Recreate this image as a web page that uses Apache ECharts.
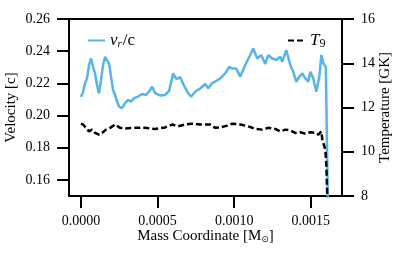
<!DOCTYPE html>
<html><head><meta charset="utf-8">
<script src="https://cdn.jsdelivr.net/npm/echarts@6/dist/echarts.min.js"></script>
<style>html,body{margin:0;padding:0;background:#fff}#c{width:399px;height:254px}</style>
</head><body><div id="c"></div>
<script>
// Velocity series (mass coordinate [Msun], v_r/c)
const velMass = [0,0.0000131,0.0000261,0.0000392,0.0000523,0.0000654,0.0000784,0.0000915,0.0001046,0.0001176,0.0001307,0.0001438,0.0001569,0.0001699,0.000183,0.0001961,0.0002092,0.0002222,0.0002353,0.0002484,0.000268,0.0002876,0.0003072,0.0003268,0.0003464,0.0003725,0.0003987,0.0004248,0.000451,0.0004641,0.0004837,0.0005163,0.000549,0.0005752,0.0006013,0.0006209,0.0006471,0.0006732,0.0006993,0.000719,0.0007451,0.0007778,0.0008105,0.0008301,0.0008562,0.0008824,0.0009085,0.0009412,0.0009673,0.0009869,0.0010131,0.0010392,0.0010719,0.0011046,0.0011242,0.0011503,0.0011765,0.0012026,0.0012222,0.0012484,0.0012745,0.0013007,0.0013137,0.0013399,0.001366,0.0013856,0.0014052,0.0014248,0.0014444,0.0014641,0.0014837,0.0014967,0.0015163,0.0015359,0.0015556,0.0015686,0.0015817,0.0015882,0.001598,0.00162];
const velValues = [0.2116,0.2147,0.22,0.2231,0.2314,0.2355,0.2303,0.2262,0.219,0.2138,0.222,0.2314,0.2365,0.2376,0.2324,0.2241,0.2159,0.2128,0.2087,0.2056,0.2046,0.2077,0.2097,0.2087,0.2108,0.2118,0.2134,0.2128,0.2159,0.2179,0.214,0.2125,0.2128,0.2153,0.2262,0.2227,0.2238,0.2184,0.214,0.2117,0.2148,0.2168,0.2196,0.2169,0.2202,0.2215,0.2231,0.2262,0.2303,0.2293,0.2293,0.2241,0.2314,0.2376,0.2417,0.2355,0.2376,0.232,0.2376,0.2355,0.2345,0.2365,0.2334,0.2407,0.2314,0.2272,0.221,0.2241,0.2262,0.2231,0.221,0.2272,0.2231,0.2148,0.2241,0.2376,0.2324,0.2334,0.2301,0.09];
// Temperature series (mass coordinate [Msun], T9 [GK])
const tempMass = [0,0.0000131,0.0000327,0.0000523,0.0000719,0.0000915,0.0001176,0.0001373,0.0001634,0.0001895,0.0002222,0.0002549,0.0002876,0.0003529,0.0004183,0.0004837,0.000549,0.0005948,0.000634,0.0006797,0.0007255,0.0007778,0.0008105,0.0008431,0.0008758,0.0009085,0.0009542,0.0009869,0.0010392,0.0010719,0.0011046,0.0011373,0.001183,0.0012222,0.001268,0.0013007,0.0013333,0.001366,0.0013987,0.0014314,0.0014641,0.0014967,0.0015294,0.001549,0.0015686,0.0015752,0.0015817,0.0015948,0.0016013,0.00162];
const tempValues = [11.27,11.23,11.08,10.92,11.0,10.85,10.77,10.85,11.0,11.08,11.23,11.08,11.05,11.08,11.08,11.03,11.1,11.23,11.15,11.23,11.27,11.23,11.23,11.23,11.08,11.1,11.18,11.27,11.23,11.18,11.12,11.03,11.0,11.08,11.03,10.92,11.0,10.97,10.85,10.88,10.82,10.88,10.85,10.77,10.92,10.55,10.4,10.09,9.41,5.0];
// Tick labels
const xTicks = [0, 0.0005, 0.001, 0.0015];
const velTicks = [0.16, 0.18, 0.20, 0.22, 0.24, 0.26];
const tempTicks = [8, 10, 12, 14, 16];

const FONT = 'Liberation Serif';
const chart = echarts.init(document.getElementById('c'), null, {renderer: 'canvas'});
const zip = (a, b) => a.map((x, i) => [x, b[i]]);
const legendBase = {itemWidth: 17, itemHeight: 12, itemGap: 8,
  itemStyle: {opacity: 0, borderWidth: 0}, selectedMode: false};
chart.setOption({
  animation: false,
  backgroundColor: '#fff',
  textStyle: {fontFamily: FONT},
  grid: {left: 69, top: 19, right: 57, bottom: 58, outerBoundsMode: 'none', containLabel: false,
         show: true, borderColor: '#000', borderWidth: 2, backgroundColor: 'transparent'},
  legend: [
    Object.assign({data: ['vel'], left: 82, top: 27,
     formatter: () => '{i|v}{s|r}{n|/c}',
     textStyle: {fontFamily: FONT, fontSize: 16, color: '#000', rich: {
       i: {fontFamily: FONT, fontSize: 17, fontStyle: 'italic', color: '#000'},
       s: {fontFamily: FONT, fontSize: 11, fontStyle: 'italic', color: '#000', padding: [7, 0, 0, 0]},
       n: {fontFamily: FONT, fontSize: 17, color: '#000', padding: [0, 0, 0, 1]}}}}, legendBase),
    Object.assign({data: ['temp'], left: 282, top: 27,
     formatter: () => '{i|T}{s|9}',
     textStyle: {fontFamily: FONT, fontSize: 16, color: '#000', rich: {
       i: {fontFamily: FONT, fontSize: 17, fontStyle: 'italic', color: '#000'},
       s: {fontFamily: FONT, fontSize: 12, color: '#000', padding: [7, 0, 0, 0]}}}}, legendBase)
  ],
  xAxis: {
    type: 'value', min: -0.0000784, max: 0.0017036,
    name: 'Mass Coordinate [M{s|⊙}]', nameLocation: 'middle', nameGap: 32, nameMoveOverlap: false,
    nameTextStyle: {fontFamily: FONT, fontSize: 15, color: '#000', rich: {s: {fontFamily: 'DejaVu Sans', fontSize: 9, color: '#000', padding: [7, 0, 0, 0]}}},
    axisLine: {show: true, onZero: false, lineStyle: {color: '#000', width: 2}},
    axisTick: {show: true, inside: false, length: 12, lineStyle: {color: '#000', width: 2}, customValues: xTicks},
    axisLabel: {customValues: xTicks, margin: 18, fontFamily: FONT, fontSize: 14, color: '#000', formatter: v => v.toFixed(4)},
    splitLine: {show: false}
  },
  yAxis: [
    {type: 'value', min: 0.15, max: 0.26, position: 'left',
     name: 'Velocity [c]', nameLocation: 'middle', nameGap: 50, nameMoveOverlap: false,
     nameTextStyle: {fontFamily: FONT, fontSize: 15, color: '#000'},
     axisLine: {show: true, onZero: false, lineStyle: {color: '#000', width: 2}},
     axisTick: {show: true, length: 12, lineStyle: {color: '#000', width: 2}, customValues: velTicks},
     axisLabel: {customValues: velTicks, margin: 19, fontFamily: FONT, fontSize: 14, color: '#000', formatter: v => v.toFixed(2)},
     splitLine: {show: false}},
    {type: 'value', min: 8, max: 16, interval: 2, position: 'right',
     name: 'Temperature [GK]', nameLocation: 'middle', nameGap: 36, nameMoveOverlap: false,
     nameTextStyle: {fontFamily: FONT, fontSize: 15, color: '#000'},
     axisLine: {show: true, onZero: false, lineStyle: {color: '#000', width: 2}},
     axisTick: {show: true, length: 12, lineStyle: {color: '#000', width: 2}, customValues: tempTicks},
     axisLabel: {customValues: tempTicks, margin: 19, fontFamily: FONT, fontSize: 14, color: '#000'},
     splitLine: {show: false}}
  ],
  series: [
    {name: 'vel', type: 'line', yAxisIndex: 0, data: zip(velMass, velValues), showSymbol: false, symbol: 'none',
     lineStyle: {color: '#56B4E9', width: 2.5}, itemStyle: {color: '#56B4E9'}, clip: true, z: 2},
    {name: 'temp', type: 'line', yAxisIndex: 1, data: zip(tempMass, tempValues), showSymbol: false, symbol: 'none',
     lineStyle: {color: '#000', width: 2.5, type: [6, 3]}, itemStyle: {color: '#000'}, clip: true, z: 3}
  ]
});
</script></body></html>
